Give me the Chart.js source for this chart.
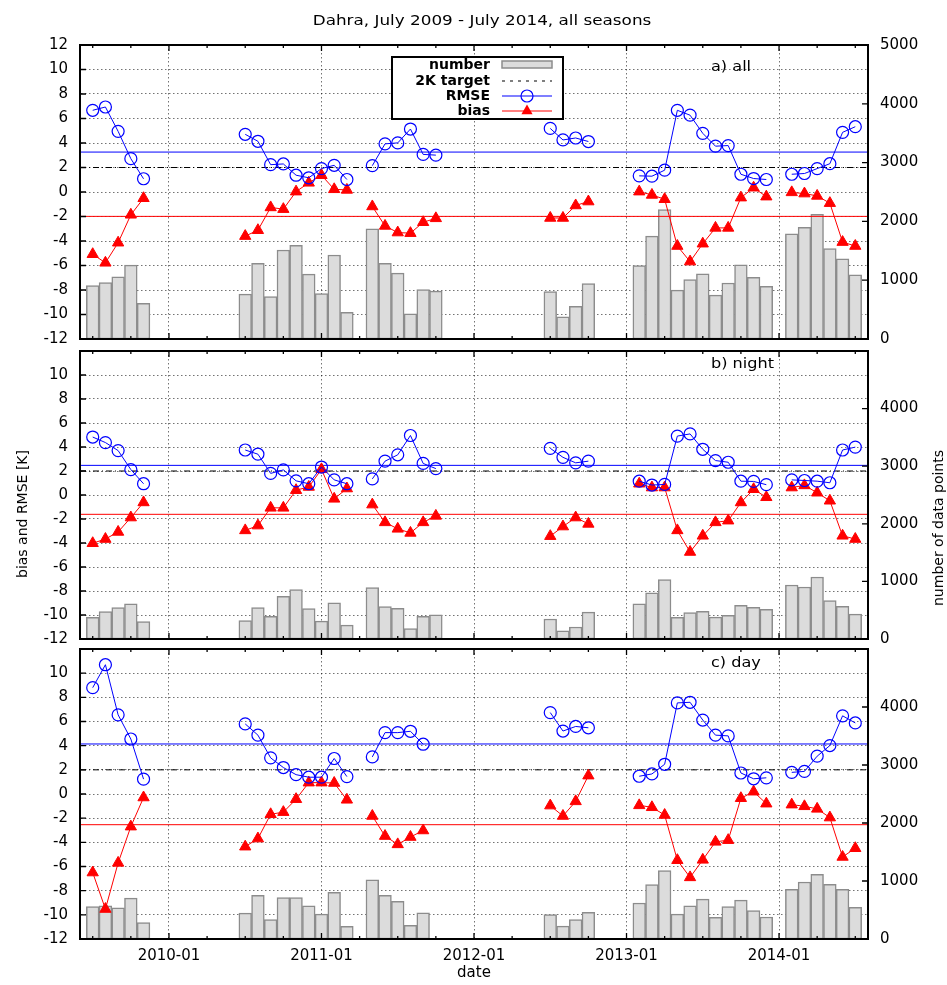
<!DOCTYPE html>
<html>
<head>
<meta charset="utf-8">
<script src="https://cdn.jsdelivr.net/npm/chart.js@4.4.1/dist/chart.umd.min.js"></script>
<style>
  html, body { margin: 0; padding: 0; background: #fff; }
  #wrap { position: relative; width: 947px; height: 985px; overflow: hidden; font-family: "DejaVu Sans", sans-serif; color: #000; }
  #wrap canvas { position: absolute; left: 0; }
  .txt { position: absolute; white-space: nowrap; font-size: 14px; line-height: 16px; }
</style>
</head>
<body>
<div id="wrap">
  <canvas id="panelA" width="947" height="360" style="top:0"></canvas>
  <canvas id="panelB" width="947" height="330" style="top:330px"></canvas>
  <canvas id="panelC" width="947" height="357" style="top:628px"></canvas>

  <div class="txt" style="left:482px; top:20px; transform:translate(-50%,-50%) scaleX(1.2);">Dahra, July 2009 - July 2014, all seasons</div>
  <div class="txt" style="left:711px; top:58px; transform:scaleX(1.15); transform-origin:left center;">a) all</div>
  <div class="txt" style="left:711px; top:355px; transform:scaleX(1.15); transform-origin:left center;">b) night</div>
  <div class="txt" style="left:711px; top:654px; transform:scaleX(1.15); transform-origin:left center;">c) day</div>
  <div class="txt" style="left:22px; top:514px; transform:translate(-50%,-50%) rotate(-90deg);">bias and RMSE [K]</div>
  <div class="txt" style="left:938px; top:528px; transform:translate(-50%,-50%) rotate(-90deg);">number of data points</div>
  <div class="txt" style="left:474px; top:972px; font-size:15px; transform:translate(-50%,-50%);">date</div>
</div>

<script>
// === DATA ===
const monthsAB = [
  "2009-07", "2009-08", "2009-09", "2009-10", "2009-11",
  "2010-07", "2010-08", "2010-09", "2010-10", "2010-11", "2010-12", "2011-01", "2011-02", "2011-03",
  "2011-05", "2011-06", "2011-07", "2011-08", "2011-09", "2011-10",
  "2012-07", "2012-08", "2012-09", "2012-10",
  "2013-02", "2013-03", "2013-04", "2013-05", "2013-06", "2013-07", "2013-08", "2013-09", "2013-10", "2013-11", "2013-12",
  "2014-02", "2014-03", "2014-04", "2014-05", "2014-06", "2014-07"
];
const monthsC = [
  "2009-07", "2009-08", "2009-09", "2009-10", "2009-11",
  "2010-07", "2010-08", "2010-09", "2010-10", "2010-11", "2010-12", "2011-01", "2011-02", "2011-03",
  "2011-05", "2011-06", "2011-07", "2011-08", "2011-09",
  "2012-07", "2012-08", "2012-09", "2012-10",
  "2013-02", "2013-03", "2013-04", "2013-05", "2013-06", "2013-07", "2013-08", "2013-09", "2013-10", "2013-11", "2013-12",
  "2014-02", "2014-03", "2014-04", "2014-05", "2014-06", "2014-07"
];

// a) all
const rmseA = [6.67, 6.94, 4.95, 2.72, 1.08,
  4.71, 4.14, 2.23, 2.29, 1.37, 1.16, 1.91, 2.18, 1.02,
  2.15, 3.93, 4.01, 5.14, 3.07, 3.01,
  5.19, 4.25, 4.41, 4.12,
  1.32, 1.29, 1.78, 6.67, 6.27, 4.79, 3.74, 3.79, 1.45, 1.10, 1.02,
  1.45, 1.51, 1.91, 2.31, 4.87, 5.33];
const biasA = [-5.08, -5.78, -4.14, -1.86, -0.51,
  -3.60, -3.12, -1.26, -1.40, 0.03, 0.75, 1.37, 0.22, 0.17,
  -1.18, -2.77, -3.31, -3.36, -2.47, -2.15,
  -2.12, -2.12, -1.10, -0.78,
  0.03, -0.24, -0.59, -4.41, -5.68, -4.22, -2.93, -2.93, -0.46, 0.35, -0.38,
  -0.03, -0.13, -0.32, -0.91, -4.09, -4.41];
const countA = [908, 958, 1059, 1256, 605,
  762, 1289, 723, 1513, 1592, 1104, 773, 1429, 454,
  1872, 1289, 1121, 426, 841, 813,
  807, 376, 555, 942,
  1250, 1749, 2203, 830, 1009, 1110, 745, 953, 1261, 1048, 897,
  1788, 1900, 2119, 1536, 1362, 1093];

// b) night
const rmseB = [4.83, 4.37, 3.70, 2.12, 0.94,
  3.75, 3.40, 1.80, 2.09, 1.18, 0.94, 2.33, 1.26, 0.94,
  1.34, 2.82, 3.35, 4.96, 2.63, 2.20,
  3.89, 3.14, 2.68, 2.82,
  1.15, 0.83, 0.88, 4.91, 5.09, 3.81, 2.87, 2.73, 1.15, 1.13, 0.86,
  1.26, 1.21, 1.15, 1.02, 3.75, 3.99];
const biasB = [-4.02, -3.67, -3.08, -1.88, -0.62,
  -2.95, -2.55, -1.07, -1.07, 0.40, 0.67, 2.14, -0.32, 0.54,
  -0.80, -2.28, -2.82, -3.16, -2.28, -1.74,
  -3.43, -2.63, -1.88, -2.41,
  0.94, 0.62, 0.62, -2.95, -4.75, -3.40, -2.28, -2.14, -0.62, 0.48, -0.19,
  0.62, 0.80, 0.19, -0.48, -3.40, -3.67];
const countB = [376, 477, 544, 611, 303,
  320, 544, 393, 741, 858, 527, 309, 628, 241,
  892, 561, 533, 180, 393, 421,
  348, 140, 208, 466,
  611, 802, 1032, 376, 460, 482, 381, 410, 583, 550, 516,
  937, 903, 1077, 668, 567, 432];

// c) day
const rmseC = [8.80, 10.70, 6.55, 4.55, 1.23,
  5.80, 4.87, 2.99, 2.19, 1.60, 1.39, 1.39, 2.94, 1.44,
  3.07, 5.08, 5.08, 5.19, 4.12,
  6.74, 5.21, 5.59, 5.48,
  1.47, 1.66, 2.46, 7.54, 7.59, 6.12, 4.87, 4.81, 1.74, 1.26, 1.34,
  1.79, 1.87, 3.13, 4.01, 6.47, 5.88];
const biasC = [-6.50, -9.52, -5.70, -2.70, -0.29,
  -4.36, -3.69, -1.68, -1.50, -0.43, 0.94, 0.94, 0.91, -0.48,
  -1.82, -3.48, -4.17, -3.56, -3.02,
  -0.96, -1.82, -0.61, 1.52,
  -0.94, -1.10, -1.74, -5.48, -6.90, -5.45, -3.96, -3.82, -0.35, 0.19, -0.80,
  -0.88, -1.02, -1.23, -1.95, -5.21, -4.49];
const countC = [559, 570, 536, 704, 285,
  447, 754, 335, 715, 715, 570, 430, 805, 218,
  1022, 754, 648, 235, 453,
  419, 223, 335, 458,
  620, 939, 1179, 430, 570, 687, 374, 559, 670, 492, 380,
  855, 983, 1117, 944, 855, 548];

// mean lines per panel (a, b, c) and the 2K target
const rmseMean = [3.26, 2.47, 4.14];
const biasMean = [-1.99, -1.61, -2.54];
const target = 2;

// x axis: months since 2009-01
const xMin = 5;
const xMax = 67;

// === HELPERS ===
const toX = m => (parseInt(m.slice(0, 4)) - 2009) * 12 + parseInt(m.slice(5, 7)) - 1;

function linePoints(months, vals) {
  const pts = [];
  months.forEach((m, i) => {
    const x = toX(m);
    if (i > 0 && x - toX(months[i - 1]) > 1) pts.push({ x: x - 0.5, y: null }); // break the line
    pts.push({ x: x, y: vals[i] });
  });
  return pts;
}
const barPoints = (months, vals) => months.map((m, i) => ({ x: toX(m), y: vals[i] }));
const flat = v => [{ x: xMin, y: v }, { x: xMax, y: v }];

Chart.defaults.font.family = "DejaVu Sans";
Chart.defaults.font.size = 15;
Chart.defaults.color = "#000";

const gridColor = "rgba(0,0,0,0.55)";
const gridDash = [1.5, 2.5];

// gnuplot style inward tick marks
const innerTicks = {
  id: "innerTicks",
  afterDraw(chart) {
    const { ctx, chartArea: a, scales } = chart;
    ctx.save();
    ctx.strokeStyle = "#000";
    ctx.lineWidth = 1.3;
    ctx.beginPath();
    scales.y.ticks.forEach(t => {
      const p = scales.y.getPixelForValue(t.value);
      ctx.moveTo(a.left, p); ctx.lineTo(a.left + 6, p);
    });
    scales.y2.ticks.forEach(t => {
      const p = scales.y2.getPixelForValue(t.value);
      ctx.moveTo(a.right - 6, p); ctx.lineTo(a.right, p);
    });
    scales.x.ticks.forEach(t => {
      const p = scales.x.getPixelForValue(t.value);
      const len = t.value % 12 === 0 ? 6 : 3;
      ctx.moveTo(p, a.bottom); ctx.lineTo(p, a.bottom - len);
      ctx.moveTo(p, a.top); ctx.lineTo(p, a.top + len);
    });
    ctx.stroke();
    ctx.restore();
  }
};

// key box (only panel a)
const keyBox = {
  id: "keyBox",
  afterDraw(chart, args, o) {
    if (!o.show) return;
    const ctx = chart.ctx;
    ctx.save();
    ctx.fillStyle = "#fff";
    ctx.fillRect(392, 57, 171, 62);
    ctx.strokeStyle = "#000";
    ctx.lineWidth = 2;
    ctx.strokeRect(392, 57, 171, 62);

    ctx.font = "bold 14px 'DejaVu Sans'";
    ctx.fillStyle = "#000";
    ctx.textAlign = "right";
    ctx.textBaseline = "middle";
    ctx.fillText("number", 490, 65);
    ctx.fillText("2K target", 490, 81);
    ctx.fillText("RMSE", 490, 96);
    ctx.fillText("bias", 490, 111);

    ctx.fillStyle = "#dcdcdc";
    ctx.fillRect(502, 61, 50, 7);
    ctx.strokeStyle = "#8c8c8c";
    ctx.lineWidth = 1.5;
    ctx.strokeRect(502, 61, 50, 7);

    ctx.strokeStyle = "#000";
    ctx.lineWidth = 1.2;
    ctx.setLineDash([3, 5]);
    ctx.beginPath(); ctx.moveTo(502, 81); ctx.lineTo(552, 81); ctx.stroke();
    ctx.setLineDash([]);

    ctx.strokeStyle = "#0000ff";
    ctx.beginPath(); ctx.moveTo(502, 96); ctx.lineTo(552, 96); ctx.stroke();
    ctx.beginPath(); ctx.arc(527, 96, 6, 0, Math.PI * 2); ctx.stroke();

    ctx.strokeStyle = "#ff0000";
    ctx.fillStyle = "#ff0000";
    ctx.beginPath(); ctx.moveTo(502, 111); ctx.lineTo(552, 111); ctx.stroke();
    ctx.beginPath();
    ctx.moveTo(527, 104.5); ctx.lineTo(532.6, 114.2); ctx.lineTo(521.4, 114.2); ctx.closePath();
    ctx.fill();
    ctx.restore();
  }
};

function makePanel(id, p) {
  const ctx = document.getElementById(id).getContext("2d");
  return new Chart(ctx, {
    type: "line",
    data: {
      datasets: [
        { label: "RMSE", data: linePoints(p.months, p.rmse), yAxisID: "y", order: 1,
          borderColor: "#0000ff", borderWidth: 1, tension: 0,
          pointStyle: "circle", pointRadius: 6, pointBorderWidth: 1.2,
          pointBorderColor: "#0000ff", pointBackgroundColor: "rgba(0,0,0,0)" },
        { label: "bias", data: linePoints(p.months, p.bias), yAxisID: "y", order: 2,
          borderColor: "#ff0000", borderWidth: 1, tension: 0,
          pointStyle: "triangle", pointRadius: 6.5, pointBorderWidth: 1,
          pointBorderColor: "#ff0000", pointBackgroundColor: "#ff0000" },
        { label: "mean RMSE", data: flat(p.rmseMean), yAxisID: "y", order: 3,
          borderColor: "#0000ff", borderWidth: 1, pointRadius: 0 },
        { label: "mean bias", data: flat(p.biasMean), yAxisID: "y", order: 4,
          borderColor: "#ff0000", borderWidth: 1, pointRadius: 0 },
        { label: "2K target", data: flat(target), yAxisID: "y", order: 5,
          borderColor: "#000", borderWidth: 1, borderDash: [6, 3, 1, 3], pointRadius: 0 },
        { type: "bar", label: "number", data: barPoints(p.months, p.count), yAxisID: "y2", order: 6,
          backgroundColor: "#dcdcdc", borderColor: "#8c8c8c", borderWidth: 1.5, borderSkipped: false,
          barPercentage: 1, categoryPercentage: 1 }
      ]
    },
    options: {
      responsive: false,
      animation: false,
      events: [],
      layout: { padding: { top: p.padTop, bottom: p.padBottom, left: 0, right: 0 } },
      plugins: { legend: { display: false }, tooltip: { enabled: false }, keyBox: { show: !!p.key } },
      scales: {
        x: {
          type: "linear", position: "bottom", min: xMin, max: xMax, offset: false,
          afterBuildTicks: s => {
            s.ticks = [];
            for (let v = 6; v <= 66; v += 3) s.ticks.push({ value: v });
          },
          afterFit: s => { s.height = p.dates ? 46 : 0; },
          grid: { color: c => (c.tick && c.tick.value % 12 === 0) ? gridColor : "rgba(0,0,0,0)",
                  drawTicks: false, offset: false, lineWidth: 1 },
          border: { display: true, color: "#000", width: 2, dash: gridDash, z: 1 },
          ticks: { display: p.dates, autoSkip: false, maxRotation: 0, padding: 8,
                   callback: v => v % 12 === 0 ? (2009 + v / 12) + "-01" : "" }
        },
        xTop: {
          type: "linear", position: "top", min: xMin, max: xMax,
          afterFit: s => { s.height = 0; },
          grid: { display: false, drawTicks: false },
          border: { display: true, color: "#000", width: 2, z: 1 },
          ticks: { display: false }
        },
        y: {
          type: "linear", position: "left", min: -12, max: 12,
          afterFit: s => { s.width = 80; },
          grid: { color: gridColor, drawTicks: false, lineWidth: 1 },
          border: { display: true, color: "#000", width: 2, dash: gridDash, z: 1 },
          ticks: { stepSize: 2, padding: 12, callback: v => (v === 12 && !p.key) ? "" : v }
        },
        y2: {
          type: "linear", position: "right", min: 0, max: 5000,
          afterFit: s => { s.width = 79; },
          grid: { display: false, drawTicks: false },
          border: { display: true, color: "#000", width: 2, z: 1 },
          ticks: { stepSize: 1000, padding: 12, callback: v => (v === 5000 && !p.key) ? "" : v }
        }
      }
    },
    plugins: [innerTicks, keyBox]
  });
}

makePanel("panelA", { months: monthsAB, rmse: rmseA, bias: biasA, count: countA,
  rmseMean: rmseMean[0], biasMean: biasMean[0], padTop: 45, padBottom: 18, key: true, dates: false });
makePanel("panelB", { months: monthsAB, rmse: rmseB, bias: biasB, count: countB,
  rmseMean: rmseMean[1], biasMean: biasMean[1], padTop: 12, padBottom: 20, key: false, dates: false });
makePanel("panelC", { months: monthsC, rmse: rmseC, bias: biasC, count: countC,
  rmseMean: rmseMean[2], biasMean: biasMean[2], padTop: 12, padBottom: 0, key: false, dates: true });
</script>
</body>
</html>
